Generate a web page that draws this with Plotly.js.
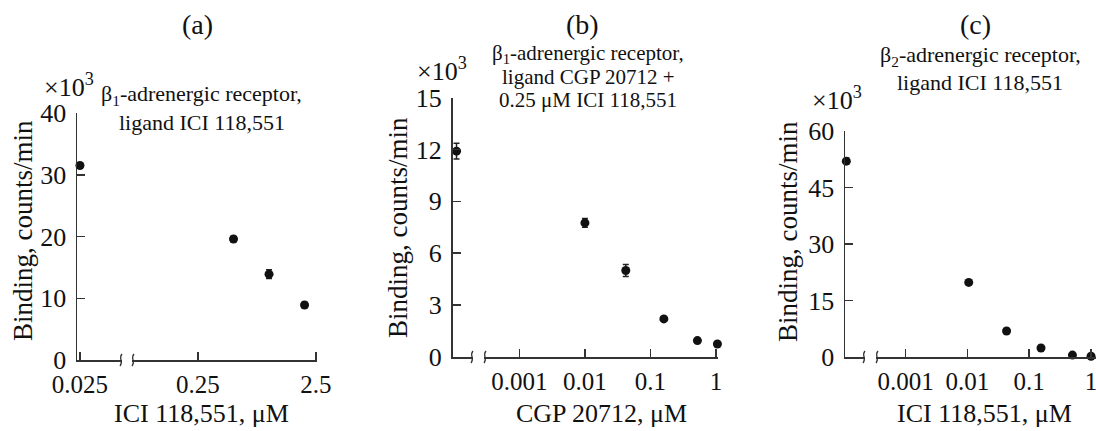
<!DOCTYPE html>
<html>
<head>
<meta charset="utf-8">
<script src="https://cdn.plot.ly/plotly-3.0.1.min.js"></script>
<style>html,body{margin:0;padding:0;background:#fff;}#chart{width:1096px;height:431px;}</style>
</head>
<body>
<div id="chart"></div>
<script>
// ---- Data (binding in thousands of counts/min) ----
// Panel (a): beta1-adrenergic receptor, ligand ICI 118,551
const concA = [0.025, 0.5, 1.0, 2.0];
const bindA = [31.5, 19.6, 13.9, 8.9];
const errA  = [0.4, 0.4, 0.7, 0.4];
const ticksA = [0.025, 0.25, 2.5];
const tickTextA = ['0.025', '0.25', '2.5'];

// Panel (b): beta1-adrenergic receptor, ligand CGP 20712 + 0.25 uM ICI 118,551
// first point = no ligand, drawn at the start of the broken axis
const concB = [0.00011, 0.01, 0.042, 0.16, 0.52, 1.05];
const bindB = [11.9, 7.75, 5.0, 2.2, 0.95, 0.75];
const errB  = [0.45, 0.25, 0.35, 0.12, 0.1, 0.1];

// Panel (c): beta2-adrenergic receptor, ligand ICI 118,551
const concC = [0.00011, 0.0105, 0.043, 0.155, 0.5, 1.0];
const bindC = [52, 19.8, 6.9, 2.4, 0.5, 0.2];
const errC  = [0.8, 0.6, 0.6, 0.5, 0.4, 0.4];

const ticksLog = [0.001, 0.01, 0.1, 1];
const tickTextLog = ['0.001', '0.01', '0.1', '1'];

// ---- Layout helpers ----
const W = 1096, H = 431;
const px = x => x / W;
const py = y => 1 - y / H;
const FONT = "'Liberation Serif', 'Times New Roman', serif";
const AX = '#333';

function marker() {
  return {color: '#111', size: 9};
}
function errY(arr) {
  return {type: 'data', array: arr, visible: true, color: '#222', thickness: 1.5, width: 3};
}

const traces = [
  {x: concA, y: bindA, error_y: errY(errA), type: 'scatter', mode: 'markers', marker: marker(), xaxis: 'x', yaxis: 'y', cliponaxis: false},
  {x: concB, y: bindB, error_y: errY(errB), type: 'scatter', mode: 'markers', marker: marker(), xaxis: 'x2', yaxis: 'y2', cliponaxis: false},
  {x: concC, y: bindC, error_y: errY(errC), type: 'scatter', mode: 'markers', marker: marker(), xaxis: 'x3', yaxis: 'y3', cliponaxis: false}
];

function xax(domain, range, tv, tt, anchor) {
  return {
    domain: domain, type: 'log', range: range, anchor: anchor,
    tickvals: tv, ticktext: tt, ticks: 'inside', ticklen: 8, tickwidth: 1.5, tickcolor: AX,
    showline: true, linecolor: AX, linewidth: 1.5, showgrid: false, zeroline: false,
    tickfont: {family: FONT, size: 25, color: '#111'}, ticklabelstandoff: 1,
    ticklabeloverflow: 'allow', fixedrange: true
  };
}
function yax(domain, range, dtick, anchor) {
  return {
    domain: domain, range: range, dtick: dtick, tick0: 0, anchor: anchor,
    ticks: 'inside', ticklen: 8, tickwidth: 1.5, tickcolor: AX,
    showline: true, linecolor: AX, linewidth: 1.5, showgrid: false, zeroline: false,
    tickfont: {family: FONT, size: 26, color: '#111'}, ticklabelstandoff: 4, fixedrange: true
  };
}

const L = Math.log10;
const layout = {
  width: W, height: H,
  margin: {l: 0, r: 0, t: 0, b: 0},
  paper_bgcolor: '#fff', plot_bgcolor: '#fff',
  showlegend: false,
  font: {family: FONT, color: '#111'},
  xaxis:  xax([px(77), px(317)], [L(0.0236), L(2.55)], ticksA, tickTextA, 'y'),
  yaxis:  yax([py(360), py(113)], [0, 40], 10, 'x'),
  xaxis2: xax([px(452.5), px(718)], [-4.02, 0.03], ticksLog, tickTextLog, 'y2'),
  yaxis2: yax([py(357), py(97.5)], [0, 15], 3, 'x2'),
  xaxis3: xax([px(845), 1], [-3.98, 0.08], ticksLog, tickTextLog, 'y3'),
  yaxis3: yax([py(357), py(131)], [0, 60], 15, 'x3'),
  shapes: [],
  annotations: []
};

// axis breaks (white gap + two small squiggles)
function axisBreak(x0, x1, yPix) {
  layout.shapes.push({type: 'rect', xref: 'paper', yref: 'paper', x0: px(x0 + 1), x1: px(x1 - 1), y0: py(yPix + 3), y1: py(yPix - 3), fillcolor: '#fff', line: {width: 0}, layer: 'above'});
  [x0, x1].forEach(xc => {
    const p = 'M ' + px(xc - 1) + ',' + py(yPix + 6) +
      ' C ' + px(xc + 3) + ',' + py(yPix + 2) + ' ' + px(xc - 3) + ',' + py(yPix - 2) + ' ' + px(xc + 1) + ',' + py(yPix - 6);
    layout.shapes.push({type: 'path', xref: 'paper', yref: 'paper', path: p, line: {color: AX, width: 1.3}, layer: 'above'});
  });
}
axisBreak(121, 133, 360);
axisBreak(472, 485, 357);
axisBreak(864, 877, 357);

function ann(text, x, y, size, opts) {
  layout.annotations.push(Object.assign({
    text: text, xref: 'paper', yref: 'paper', x: px(x), y: py(y),
    xanchor: 'center', yanchor: 'middle', showarrow: false,
    font: {family: FONT, size: size, color: '#111'}
  }, opts || {}));
}

// panel letters
ann('(a)', 197, 25, 28);
ann('(b)', 582, 24, 28);
ann('(c)', 975, 24, 28);

// multipliers
ann('×10<sup>3</sup>', 96, 86, 26, {xanchor: 'right'});
ann('×10<sup>3</sup>', 469, 70, 26, {xanchor: 'right'});
ann('×10<sup>3</sup>', 864, 98, 26, {xanchor: 'right'});

// panel descriptions
ann('β<sub>1</sub>-adrenergic receptor,', 201, 95, 22);
ann('ligand ICI 118,551', 202, 122, 22);
ann('β<sub>1</sub>-adrenergic receptor,', 588, 54, 21);
ann('ligand CGP 20712 +', 588, 77, 21);
ann('0.25 μM ICI 118,551', 588, 100, 21);
ann('β<sub>2</sub>-adrenergic receptor,', 980, 56, 22);
ann('ligand ICI 118,551', 980, 82, 22);

// axis titles
ann('Binding, counts/min', 23, 231, 27, {textangle: -90});
ann('Binding, counts/min', 398, 227, 27, {textangle: -90});
ann('Binding, counts/min', 788, 232, 27, {textangle: -90});
ann('ICI 118,551, μM', 201, 413, 26);
ann('CGP 20712, μM', 601, 413, 26);
ann('ICI 118,551, μM', 984, 413, 26);

Plotly.newPlot('chart', traces, layout, {staticPlot: true, displayModeBar: false});
</script>
</body>
</html>
